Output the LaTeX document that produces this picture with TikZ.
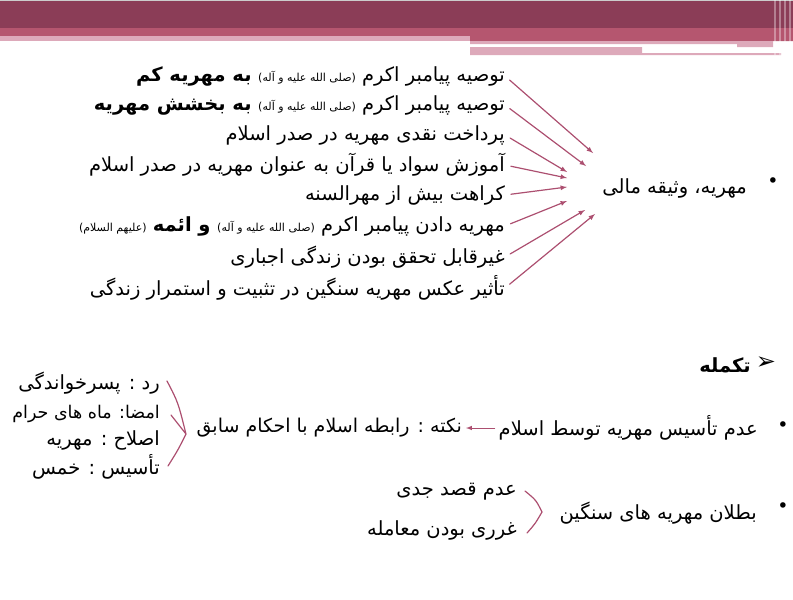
\documentclass[tikz,border=0pt]{standalone}
\usepackage{fontspec}
\newfontfamily\arabicfont[Script=Arabic]{DejaVu Sans}
\newfontfamily\symfont{DejaVu Sans}
\TeXXeTstate=1
\usetikzlibrary{arrows,calc,positioning}
\definecolor{plum}{HTML}{8B3D57}
\definecolor{rose}{HTML}{B5566F}
\definecolor{blush}{HTML}{DDA9BA}
\definecolor{arrowrose}{HTML}{AC4F70}
\newcommand{\fa}[1]{\arabicfont\beginR #1\endR}
\newcommand{\sal}{{\fontsize{11}{13}\selectfont (صلی الله علیه و آله)}}
\newcommand{\ale}{{\fontsize{11}{13}\selectfont (علیهم السلام)}}
\tikzset{
  fa/.style={anchor=east,inner sep=0pt,font=\fontsize{19.5}{22}\selectfont},
  dot/.style={inner sep=0pt,font=\symfont\fontsize{19}{20}\selectfont},
  arr/.style={draw=arrowrose,line width=1.2pt,-latex},
  brk/.style={draw=arrowrose,line width=1.2pt}
}

\begin{document}
\begin{tikzpicture}[x=1pt,y=-1pt,line join=round,line cap=round]
\useasboundingbox (0,0) rectangle (793,600);
% header bands
\fill[plum] (0,0) rectangle (793,28);
\fill[black!20] (0,0) rectangle (793,1);
\fill[rose] (0,28) rectangle (793,36) (470,36) rectangle (793,41);
\fill[blush] (0,36) rectangle (470,41);
\fill[blush] (470,41) rectangle (773,44) (737,44) rectangle (773,47);
\fill[blush] (470,47) rectangle (642,55) (642,53) rectangle (781,55);
\foreach \x/\w in {774/2,779/1.5,784/2,789/1.5}{\fill[white,opacity=0.35] (\x,0) rectangle ($(\x,55)+(\w,0)$);}
% first group
\node[fa] (t1) at (505,76) {\fa{توصیه پیامبر اکرم \sal{} \textbf{به مهریه کم}}};
\node[fa] (t2) at (505,105) {\fa{توصیه پیامبر اکرم \sal{} \textbf{به بخشش مهریه}}};
\node[fa] (t3) at (505,135) {\fa{پرداخت نقدی مهریه در صدر اسلام}};
\node[fa] (t4) at (505,165) {\fa{آموزش سواد یا قرآن به عنوان مهریه در صدر اسلام}};
\node[fa] (t5) at (505,195) {\fa{کراهت بیش از مهرالسنه}};
\node[fa] (t6) at (505,226) {\fa{مهریه دادن پیامبر اکرم \sal{} \textbf{و ائمه} \ale}};
\node[fa] (t7) at (505,257) {\fa{غیرقابل تحقق بودن زندگی اجباری}};
\node[fa] (t8) at (505,288) {\fa{تأثیر عکس مهریه سنگین در تثبیت و استمرار زندگی}};
\node[fa] (m) at (747,188) {\fa{مهریه، وثیقه مالی}};
\node[dot] (d1) at (773,183) {•};
\foreach \i/\x/\y in {1/593/153,2/586/166,3/567/172,4/567/178,5/567/187,6/567/201,7/585/210,8/595/214}{
  \coordinate (e\i) at (\x,\y);
  \draw[arr,shorten <=6pt] (t\i.east) -- (e\i);}
% second group
\node[dot,font=\symfont\fontsize{24}{24}\selectfont] (d2) at (766,363) {➢};
\node[fa] (k) at (751,365) {\fa{\textbf{تکمله}}};
\node[dot] (d3) at (783,427) {•};
\node[fa] (a) at (758,428) {\fa{عدم تأسیس مهریه توسط اسلام}};
\node[fa,font=\fontsize{19}{22}\selectfont] (n) at (462,428) {\fa{نکته : رابطه اسلام با احکام سابق}};
\draw[draw=arrowrose,line width=1pt,-latex] (a.west) ++(-4,0) -- ($(n.east)+(4,0)$);
\node[fa] (r1) at (160,383) {\fa{رد  : پسرخواندگی}};
\node[fa,font=\fontsize{17.5}{22}\selectfont] (r2) at (160,414) {\fa{امضا: ماه های حرام}};
\node[fa] (r3) at (160,440) {\fa{اصلاح : مهریه}};
\node[fa] (r4) at (160,467) {\fa{تأسیس : خمس}};
\coordinate (p1) at (167,381);
\coordinate (p2) at (186,434);
\coordinate (p3) at (168,466);
\coordinate (p4) at (171,415);
\draw[brk] (p1) .. controls (178,402) .. (p2) .. controls (178,450) .. (p3) (p4) -- (p2);
\node[dot] (d4) at (783,508) {•};
\node[fa] (b) at (757,513) {\fa{بطلان مهریه های سنگین}};
\node[fa] (c1) at (517,492) {\fa{عدم قصد جدی}};
\node[fa] (c2) at (517,530) {\fa{غرری بودن معامله}};
\coordinate (q1) at (525,491);
\coordinate (q2) at (542,512);
\coordinate (q3) at (527,533);
\draw[brk] (q1) .. controls (536,500) .. (q2) .. controls (535,524) .. (q3);
\end{tikzpicture}
\end{document}
